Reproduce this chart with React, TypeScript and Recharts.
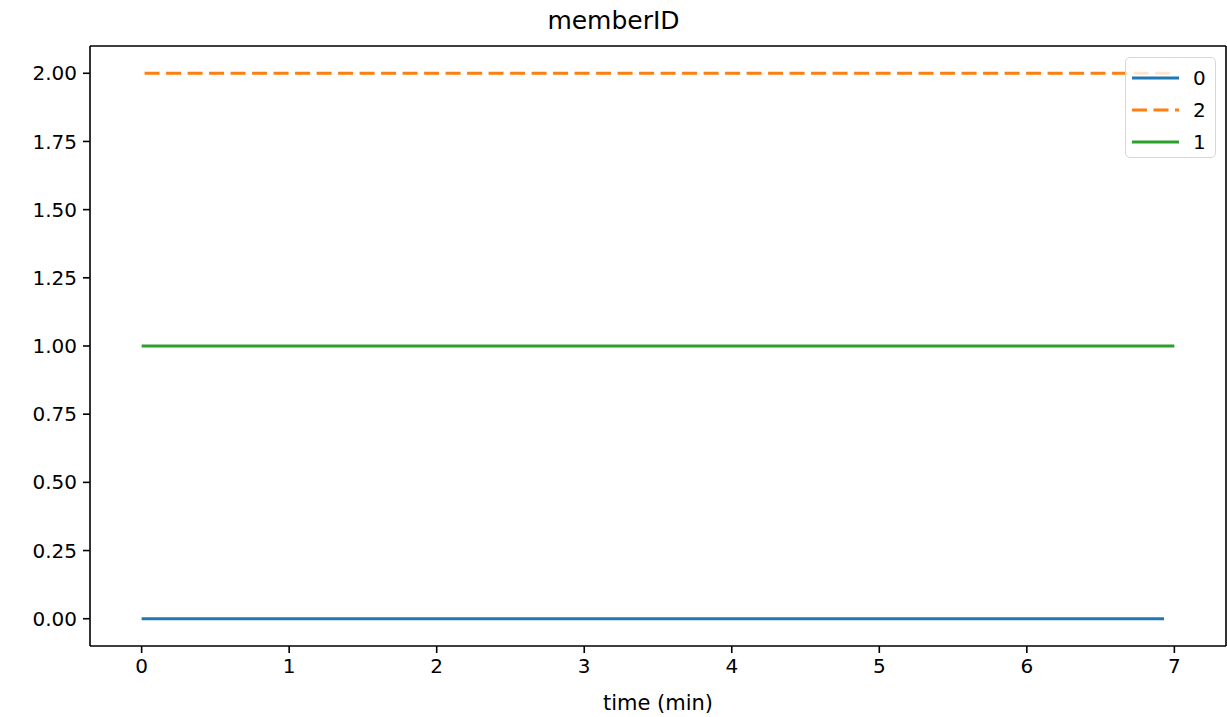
import { Line, LineChart, ReferenceLine, XAxis, YAxis } from "recharts";

const COLORS = {
  m0: "#1f77b4",
  m2: "#ff7f0e",
  m1: "#2ca02c",
  ink: "#000000",
};

// memberID over time, one constant track per member
const member0 = [
  { t: 0, id: 0 },
  { t: 6.93, id: 0 },
];
const member2 = [
  { t: 0.02, id: 2 },
  { t: 6.98, id: 2 },
];
const member1 = [
  { t: 0, id: 1 },
  { t: 7.0, id: 1 },
];

const xTicks = [0, 1, 2, 3, 4, 5, 6, 7];
const yTicks = [0, 0.25, 0.5, 0.75, 1, 1.25, 1.5, 1.75, 2];
const xDomain = [-0.35, 7.35];
const yDomain = [-0.1, 2.1];

const legendItems = [
  { name: "0", color: COLORS.m0, dash: undefined },
  { name: "2", color: COLORS.m2, dash: "15 6.5" },
  { name: "1", color: COLORS.m1, dash: undefined },
];

const font = "'DejaVu Sans', sans-serif";
const tickStyle = { fill: COLORS.ink, fontSize: 20, fontFamily: font };
const axisLine = { stroke: COLORS.ink, strokeWidth: 1.6 };

export default function App() {
  return (
    <div style={{ position: "absolute", left: 0, top: 0, width: 1227, height: 717, background: "#fff", fontFamily: font }}>
      <LineChart width={1227} height={717} data={member1} margin={{ top: 46, right: 1, bottom: 0, left: 0 }}>
        <XAxis
          type="number"
          dataKey="t"
          domain={xDomain}
          ticks={xTicks}
          allowDataOverflow
          tick={tickStyle}
          tickSize={7}
          tickMargin={6}
          tickLine={axisLine}
          axisLine={axisLine}
          height={71}
        />
        <YAxis
          type="number"
          domain={yDomain}
          ticks={yTicks}
          allowDataOverflow
          tickFormatter={(v: number) => v.toFixed(2)}
          tick={tickStyle}
          tickSize={7}
          tickMargin={6}
          tickLine={axisLine}
          axisLine={axisLine}
          width={90}
        />
        {/* top and right spines */}
        <ReferenceLine y={yDomain[1]} stroke={COLORS.ink} strokeWidth={1.6} ifOverflow="visible" />
        <ReferenceLine x={xDomain[1]} stroke={COLORS.ink} strokeWidth={1.6} ifOverflow="visible" />
        <Line data={member0} dataKey="id" stroke={COLORS.m0} strokeWidth={3} dot={false} isAnimationActive={false} />
        <Line data={member2} dataKey="id" stroke={COLORS.m2} strokeWidth={3} strokeDasharray="15 6.5" dot={false} isAnimationActive={false} />
        <Line data={member1} dataKey="id" stroke={COLORS.m1} strokeWidth={3} dot={false} isAnimationActive={false} />
      </LineChart>

      <div style={{ position: "absolute", left: 0, width: 1227, top: 6, textAlign: "center", fontSize: 25, color: COLORS.ink, lineHeight: "30px" }}>
        memberID
      </div>
      <div style={{ position: "absolute", left: 90, width: 1136, top: 690, textAlign: "center", fontSize: 21, color: COLORS.ink, lineHeight: "26px" }}>
        time (min)
      </div>

      <div
        style={{
          position: "absolute",
          left: 1125,
          top: 57,
          width: 91,
          height: 101,
          boxSizing: "border-box",
          border: "1.6px solid #d6d6d6",
          borderRadius: 5,
          background: "rgba(255,255,255,0.8)",
        }}
      >
        {legendItems.map((item, i) => (
          <div key={item.name} style={{ position: "absolute", left: 0, top: 4 + i * 32, height: 32, display: "flex", alignItems: "center" }}>
            <svg width={60} height={32} style={{ display: "block" }}>
              <line x1={6} x2={53} y1={16} y2={16} stroke={item.color} strokeWidth={3} strokeDasharray={item.dash} />
            </svg>
            <span style={{ fontSize: 20, color: COLORS.ink, marginLeft: 7 }}>{item.name}</span>
          </div>
        ))}
      </div>
    </div>
  );
}
